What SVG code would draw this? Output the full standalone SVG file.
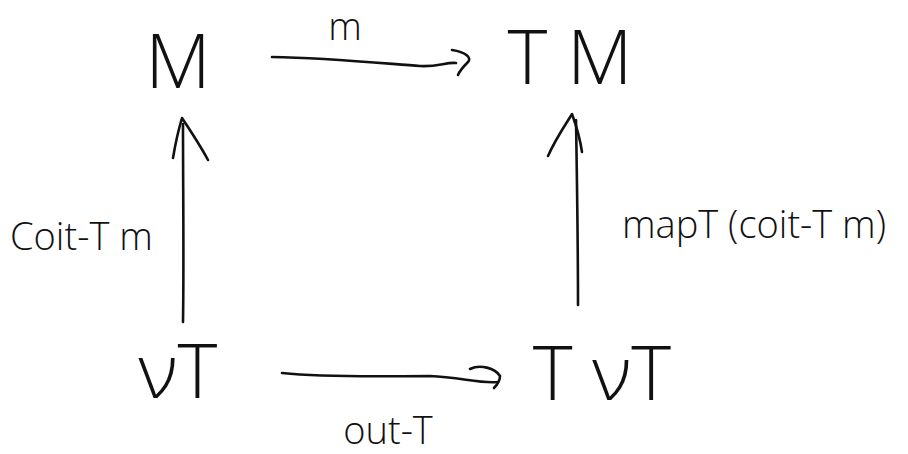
<svg xmlns="http://www.w3.org/2000/svg" width="908" height="454" viewBox="0 0 908 454">
  <style>
    .hand { font-family: "Open Sans", "DejaVu Sans", sans-serif; font-weight: 300; fill: #111; }
    .obj { font-size: 76px; }
    .lbl { font-size: 38px; }
    .stroke { fill: none; stroke: #111; stroke-width: 2.6; stroke-linecap: round; stroke-linejoin: round; }
  </style>
  <rect width="908" height="454" fill="#fff"/>

  <!-- objects of the square -->
  <g id="node-M"><text class="hand obj" x="178" y="88" text-anchor="middle">M</text></g>
  <g id="node-TM"><text class="hand obj" x="570" y="84" text-anchor="middle">T M</text></g>
  <g id="node-nuT"><text class="hand obj" x="178" y="398" text-anchor="middle" font-size="66">νT</text></g>
  <g id="node-TnuT"><text class="hand obj" x="602" y="400" text-anchor="middle" font-size="70">T νT</text></g>

  <!-- morphisms -->
  <g id="connectors">
    <!-- m : M -> T M -->
    <path class="stroke" d="M272,57 C330,58 390,64 420,66 C438,67 446,62 456,63"/>
    <path class="stroke" d="M452,50 C466,52 472,58 468,62 C464,66 460,70 458,75"/>
    <!-- out-T : νT -> T νT -->
    <path class="stroke" d="M282,373 C330,378 390,376 430,376 C460,377 480,384 498,382"/>
    <path class="stroke" d="M470,369 C480,364 495,368 500,376 C500,381 497,385 494,388"/>
    <!-- coit-T m : νT -> M -->
    <path class="stroke" d="M183,322 C184,260 183,190 183,124"/>
    <path class="stroke" d="M173,158 C176,140 179,128 182,118 C190,130 200,145 208,160"/>
    <!-- mapT (coit-T m) : T νT -> T M -->
    <path class="stroke" d="M578,305 C578,240 577,180 576,120"/>
    <path class="stroke" d="M548,156 C556,138 566,124 572,114 C576,125 580,138 582,152"/>
  </g>

  <!-- labels -->
  <g id="labels">
    <text class="hand lbl" x="345" y="40" text-anchor="middle" font-size="34">m</text>
    <text class="hand lbl" x="10" y="250">Coit-T m</text>
    <text class="hand lbl" x="622" y="238">mapT (coit-T m)</text>
    <text class="hand lbl" x="388" y="444" text-anchor="middle">out-T</text>
  </g>
</svg>
